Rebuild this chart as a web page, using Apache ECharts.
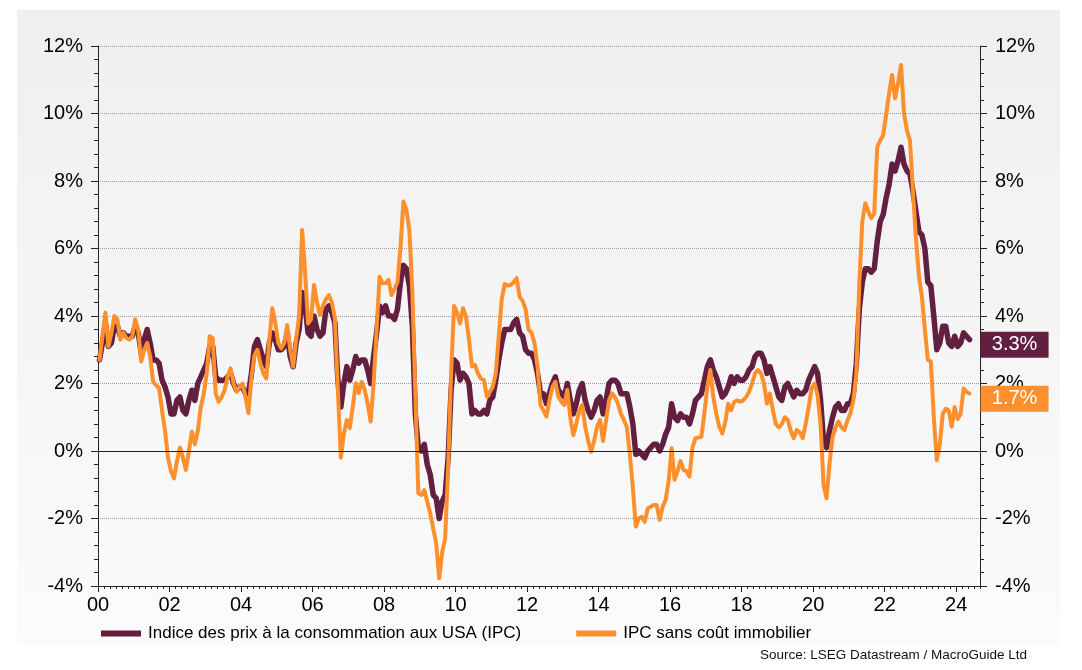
<!DOCTYPE html>
<html>
<head>
<meta charset="utf-8">
<script src="https://cdn.jsdelivr.net/npm/echarts@6/dist/echarts.min.js"></script>
<style>
html,body{margin:0;padding:0;background:#fff;}
#chart{width:1082px;height:670px;}
</style>
</head>
<body>
<div id="chart"></div>
<script>
// Monthly data, January 2000 to May 2024 (year-on-year %, monthly)
const startYear = 2000;

const cpiUSA = [
  2.7,3.2,3.8,3.1,3.2,3.7,3.7,3.4,3.5,3.4,3.4,3.4,      // 2000
  3.7,3.5,2.9,3.3,3.6,3.2,2.7,2.7,2.6,2.1,1.9,1.6,      // 2001
  1.1,1.1,1.5,1.6,1.2,1.1,1.5,1.8,1.5,2.0,2.2,2.4,      // 2002
  2.6,3.1,3.1,2.2,2.1,2.1,2.1,2.2,2.3,2.0,1.8,1.9,      // 2003
  1.9,1.7,1.7,2.3,3.1,3.3,3.0,2.7,2.5,3.2,3.5,3.3,      // 2004
  3.0,3.0,3.1,3.5,2.8,2.5,3.2,3.6,4.7,4.3,3.5,3.4,      // 2005
  4.0,3.6,3.4,3.5,4.2,4.3,4.1,3.8,2.1,1.3,2.0,2.5,      // 2006
  2.1,2.4,2.8,2.6,2.7,2.7,2.4,2.0,2.8,3.5,4.3,4.1,      // 2007
  4.3,4.0,4.0,3.9,4.2,5.0,5.5,5.4,4.9,3.7,1.1,0.1,      // 2008
  0.0,0.2,-0.4,-0.7,-1.3,-1.4,-2.0,-1.5,-1.3,-0.2,1.8,2.7, // 2009
  2.6,2.1,2.3,2.2,2.0,1.1,1.2,1.1,1.1,1.2,1.1,1.5,      // 2010
  1.6,2.1,2.7,3.2,3.6,3.6,3.6,3.8,3.9,3.5,3.4,3.0,      // 2011
  2.9,2.9,2.7,2.3,1.7,1.7,1.4,1.7,2.0,2.2,1.8,1.7,      // 2012
  1.6,2.0,1.5,1.1,1.4,1.8,2.0,1.5,1.2,1.0,1.2,1.5,      // 2013
  1.6,1.1,1.5,2.0,2.1,2.1,2.0,1.7,1.7,1.7,1.3,0.8,      // 2014
  -0.1,0.0,-0.1,-0.2,0.0,0.1,0.2,0.2,0.0,0.2,0.5,0.7,   // 2015
  1.4,1.0,0.9,1.1,1.0,1.0,0.8,1.1,1.5,1.6,1.7,2.1,      // 2016
  2.5,2.7,2.4,2.2,1.9,1.6,1.7,1.9,2.2,2.0,2.2,2.1,      // 2017
  2.1,2.2,2.4,2.5,2.8,2.9,2.9,2.7,2.3,2.5,2.2,1.9,      // 2018
  1.6,1.5,1.9,2.0,1.8,1.6,1.8,1.7,1.7,1.8,2.1,2.3,      // 2019
  2.5,2.3,1.5,0.3,0.1,0.6,1.0,1.3,1.4,1.2,1.2,1.4,      // 2020
  1.4,1.7,2.6,4.2,5.0,5.4,5.4,5.3,5.4,6.2,6.8,7.0,      // 2021
  7.5,7.9,8.5,8.3,8.6,9.0,8.5,8.3,8.2,7.7,7.1,6.5,      // 2022
  6.4,6.0,5.0,4.9,4.0,3.0,3.2,3.7,3.7,3.2,3.1,3.4,      // 2023
  3.1,3.2,3.5,3.4,3.3                                   // 2024
];

const cpiExShelter = [
  2.7,3.4,4.1,3.1,3.5,4.0,3.9,3.3,3.5,3.35,3.3,3.4,          // 2000
  3.9,3.6,2.65,3.0,3.2,2.8,2.05,1.95,1.86,1.2,0.6,-0.2,      // 2001
  -0.6,-0.81,-0.3,0.1,-0.2,-0.56,0.0,0.57,0.2,0.6,1.3,1.7,   // 2002
  2.3,3.4,3.35,1.7,1.46,1.6,1.8,2.2,2.45,2.0,1.76,1.9,       // 2003
  2.0,1.6,1.12,2.2,2.84,3.0,2.6,2.3,2.15,3.3,4.23,3.8,       // 2004
  3.2,3.04,3.2,3.73,3.0,2.5,3.3,4.0,6.55,5.3,3.78,3.9,       // 2005
  4.92,4.4,4.03,4.3,4.5,4.62,4.4,3.93,1.8,-0.2,0.5,0.92,     // 2006
  0.68,1.3,2.01,1.72,2.05,1.81,1.4,0.87,2.0,3.59,5.16,4.97,  // 2007
  4.97,5.07,4.62,4.8,5.0,6.0,7.39,7.14,6.55,4.7,1.7,-1.25,   // 2008
  -1.3,-1.16,-1.5,-1.85,-2.3,-2.73,-3.77,-3.0,-2.6,-0.5,2.3,4.3, // 2009
  4.1,3.78,4.23,3.98,3.3,2.5,2.55,2.3,2.15,2.1,1.61,1.75,    // 2010
  1.9,2.3,3.4,4.5,4.95,4.9,4.92,5.0,5.12,4.57,4.45,4.2,      // 2011
  3.6,3.5,3.2,2.5,1.36,1.2,1.02,1.5,1.9,2.05,1.6,1.46,       // 2012
  1.36,1.81,1.0,0.47,0.8,1.2,1.36,0.72,0.3,-0.02,0.3,0.72,   // 2013
  0.92,0.3,0.9,1.5,1.71,1.6,1.4,1.1,0.92,0.7,-0.1,-1.1,      // 2014
  -2.24,-2.0,-1.95,-2.1,-1.7,-1.65,-1.6,-1.6,-2.04,-1.65,-1.45,-0.9, // 2015
  0.08,-0.85,-0.6,-0.3,-0.56,-0.6,-0.76,0.1,0.38,0.4,0.42,1.12, // 2016
  1.9,2.4,1.6,1.1,0.72,0.52,0.85,1.4,1.21,1.45,1.5,1.46,     // 2017
  1.5,1.6,1.75,2.0,2.3,2.4,2.3,2.0,1.4,1.7,1.2,0.8,          // 2018
  0.7,0.8,1.0,0.92,0.6,0.38,0.62,0.55,0.38,0.8,1.3,1.86,     // 2019
  2.0,1.65,0.8,-1.0,-1.4,-0.37,0.4,0.7,0.87,0.7,0.62,0.9,    // 2020
  1.12,1.5,2.3,4.97,6.8,7.34,7.1,6.9,7.04,9.0,9.2,9.36,      // 2021
  9.96,10.6,11.14,10.45,10.9,11.44,10.0,9.5,9.2,7.7,6.3,5.2, // 2022
  4.57,3.6,2.7,2.65,1.0,-0.27,0.18,1.1,1.25,1.2,0.72,1.3,    // 2023
  0.95,1.1,1.85,1.75,1.7                                     // 2024
];

const seriesNames = ['Indice des prix à la consommation aux USA (IPC)', 'IPC sans coût immobilier'];
const xTickLabels = ['00','02','04','06','08','10','12','14','16','18','20','22','24'];
const yTickLabels = ['-4%','-2%','0%','2%','4%','6%','8%','10%','12%'];
const sourceText = 'Source: LSEG Datastream / MacroGuide Ltd';

const colPurple = '#631f40';
const colOrange = '#fd8f2c';

const toXY = arr => arr.map((v, i) => [startYear + (i + 0.5) / 12, v]);
const purpleXY = toXY(cpiUSA);
const orangeXY = toXY(cpiExShelter);

const xTickYears = xTickLabels.map(s => startYear + parseInt(s, 10));
const xMin = startYear, xMax = 2024 + 8 / 12;
const minorTickVals = [];
for (let k = 0; k <= Math.round((xMax - xMin) * 6); k++) minorTickVals.push(xMin + k / 6);
const yMin = parseInt(yTickLabels[0], 10), yMax = parseInt(yTickLabels[yTickLabels.length - 1], 10);

const font = '"Liberation Sans", Arial, Helvetica, sans-serif';
const axisCol = '#222';

function endMarker(xy, color) {
  const last = xy[xy.length - 1];
  return {
    silent: true,
    symbol: 'rect',
    symbolSize: [68, 26],
    symbolOffset: [45, 5],
    itemStyle: { color: color },
    label: {
      show: true, position: 'inside', color: '#fff', fontSize: 20, fontFamily: font,
      formatter: p => p.value.toFixed(1) + '%'
    },
    data: [{ coord: last, value: last[1] }]
  };
}

const chart = echarts.init(document.getElementById('chart'), null, { renderer: 'canvas' });
chart.setOption({
  animation: false,
  backgroundColor: '#ffffff',
  textStyle: { fontFamily: font },
  graphic: [
    {
      type: 'rect', z: -10, silent: true,
      shape: { x: 17, y: 10, width: 1043, height: 635 },
      style: {
        fill: new echarts.graphic.LinearGradient(0, 0, 0, 1, [
          { offset: 0, color: '#efefef' }, { offset: 1, color: '#fbfbfb' }
        ])
      }
    },
    {
      type: 'text', z: 10, silent: true,
      x: 1027, y: 655,
      style: { text: sourceText, font: '13.5px ' + font, fill: '#111', textAlign: 'right', textVerticalAlign: 'middle' }
    }
  ],
  grid: { left: 98, right: 102, top: 46, bottom: 84, containLabel: false },
  legend: {
    data: seriesNames,
    left: 96, top: 620,
    icon: 'rect', itemWidth: 40, itemHeight: 6, itemGap: 55,
    textStyle: { fontSize: 17, color: '#000', fontFamily: font, padding: [0, 0, 0, 2] }
  },
  xAxis: [
    {
      type: 'value', min: xMin, max: xMax, position: 'bottom',
      axisLine: { show: true, onZero: false, lineStyle: { color: axisCol, width: 1 } },
      axisTick: { show: true, length: 6, customValues: xTickYears, lineStyle: { color: axisCol } },
      axisLabel: {
        customValues: xTickYears, fontSize: 20, color: '#000', margin: 9, fontFamily: font,
        formatter: v => xTickLabels[xTickYears.indexOf(Math.round(v))] || ''
      },
      splitLine: { show: false }
    },
    {
      type: 'value', min: xMin, max: xMax, position: 'bottom',
      axisLine: { show: false, onZero: false },
      axisTick: { show: true, length: 3, customValues: minorTickVals, lineStyle: { color: axisCol } },
      axisLabel: { show: false },
      splitLine: { show: false }
    }
  ],
  yAxis: [
    {
      type: 'value', min: yMin, max: yMax, interval: 2, position: 'left',
      axisLine: { show: true, onZero: false, lineStyle: { color: axisCol } },
      axisTick: { show: true, length: 7, lineStyle: { color: axisCol } },
      minorTick: { show: true, splitNumber: 5, length: 4, lineStyle: { color: axisCol } },
      axisLabel: { fontSize: 20, color: '#000', margin: 15, fontFamily: font,
        formatter: v => yTickLabels[Math.round((v - yMin) / 2)] },
      splitLine: { show: true, lineStyle: { color: '#9c9c9c', type: 'dotted', width: 1 } }
    },
    {
      type: 'value', min: yMin, max: yMax, interval: 2, position: 'right',
      axisLine: { show: true, onZero: false, lineStyle: { color: axisCol } },
      axisTick: { show: true, length: 7, lineStyle: { color: axisCol } },
      minorTick: { show: true, splitNumber: 5, length: 4, lineStyle: { color: axisCol } },
      axisLabel: { fontSize: 20, color: '#000', margin: 15, fontFamily: font,
        formatter: v => yTickLabels[Math.round((v - yMin) / 2)] },
      splitLine: { show: false }
    }
  ],
  series: [
    {
      name: seriesNames[0], type: 'line', xAxisIndex: 0, yAxisIndex: 0,
      data: purpleXY, showSymbol: false, symbol: 'none', z: 3,
      lineStyle: { color: colPurple, width: 5.5, join: 'round', cap: 'round' },
      itemStyle: { color: colPurple },
      markLine: {
        silent: true, symbol: ['none', 'none'], label: { show: false },
        lineStyle: { color: '#222', type: 'solid', width: 1 },
        data: [{ yAxis: 0 }]
      },
      markPoint: endMarker(purpleXY, colPurple)
    },
    {
      name: seriesNames[1], type: 'line', xAxisIndex: 0, yAxisIndex: 0,
      data: orangeXY, showSymbol: false, symbol: 'none', z: 4,
      lineStyle: { color: colOrange, width: 4, join: 'round', cap: 'round' },
      itemStyle: { color: colOrange },
      markPoint: endMarker(orangeXY, colOrange)
    }
  ]
});
</script>
</body>
</html>
